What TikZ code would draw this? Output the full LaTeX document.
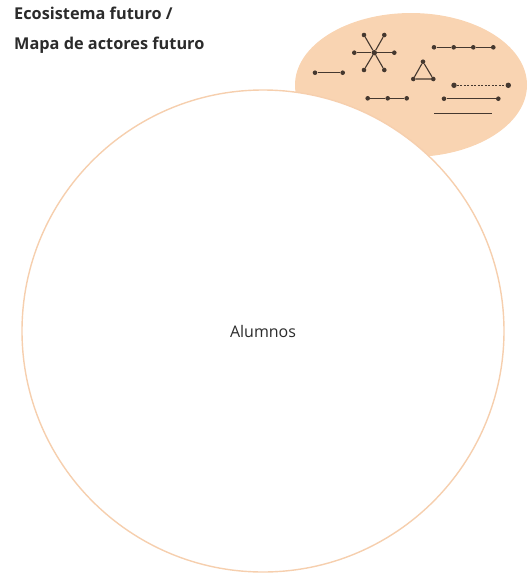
\documentclass[tikz,border=0pt]{standalone}
\usepackage{fontspec}
\setmainfont{Open Sans}
\usetikzlibrary{positioning}
\definecolor{mpeach}{HTML}{F9D4B2}
\definecolor{mring}{HTML}{F6CFAE}
\definecolor{mink}{HTML}{45382F}
\definecolor{mtext}{HTML}{2B2B2B}
\tikzset{
  heading/.style={anchor=west,font=\fontsize{16.3}{19}\selectfont\bfseries,text=mtext,inner sep=0pt},
  link/.style={mink,line width=1.1pt},
  dot/.style={circle,fill=mink,inner sep=0pt,minimum size=4.6pt},
  actor/.style={font=\fontsize{16}{18}\selectfont,text=mtext},
}
\begin{document}
\begin{tikzpicture}[x=1pt,y=-1pt]
    \useasboundingbox (0,0) rectangle (528,574);
    % blob behind the ring
    \fill[mpeach] (411,85) ellipse[x radius=116,y radius=72];
    \draw[mring,line width=1.4pt,fill=white] (263,331) circle[radius=241];
    \node[heading] (t1) at (14,13) {Ecosistema futuro /};
    \node[heading] (t2) at (14,45) {Mapa de actores futuro};
    \node[actor] (al) at (263,331) {Alumnos};
    % star
    \node[dot,minimum size=5.4pt] (hub) at (374.3,52.7) {};
    \foreach \n/\px/\py in {a/364/35,b/384.3/35,c/354.3/52.7,d/394.3/52.7,e/364/70,f/384.3/70}{
      \node[dot] (arm\n) at (\px,\py) {};
      \draw[link] (hub)--(arm\n);
    }
    % pair
    \node[dot] (p1) at (315,72.7) {};
    \node[dot] (p2) at (342.7,72.7) {};
    \draw[link] (p1)--(p2);
    % triangle
    \node[dot] (ta) at (423,61.7) {};
    \node[dot] (tb) at (413.3,79) {};
    \node[dot] (tc) at (433.3,79) {};
    \draw[link] (ta)--(tb)--(tc)--(ta);
    % chain of four
    \node[dot] (c1) at (434,47.3) {};
    \node[dot] (c2) at (453.7,47.3) {};
    \node[dot] (c3) at (473.3,47.3) {};
    \node[dot] (c4) at (493.3,47.3) {};
    \draw[link] (c1)--(c2)--(c3)--(c4);
    % chain of three
    \node[dot] (r1) at (367.7,98.3) {};
    \node[dot] (r2) at (387.7,98.3) {};
    \node[dot] (r3) at (406.7,98.3) {};
    \draw[link] (r1)--(r2)--(r3);
    % weak tie
    \node[dot,minimum size=5.4pt] (w1) at (454,85.3) {};
    \node[dot,minimum size=5.4pt] (w2) at (508.3,85.3) {};
    \draw[link,dashed,dash pattern=on 2pt off 1.5pt] (w1)--(w2);
    % strong tie
    \node[dot] (g1) at (444,98.7) {};
    \node[dot] (g2) at (498.3,98.7) {};
    \draw[link] (g1)--(g2);
    % bare line
    \coordinate (l1) at (434.3,113.7);
    \coordinate (l2) at (491.7,113.7);
    \draw[link,line width=0.9pt] (l1)--(l2);
\end{tikzpicture}
\end{document}
